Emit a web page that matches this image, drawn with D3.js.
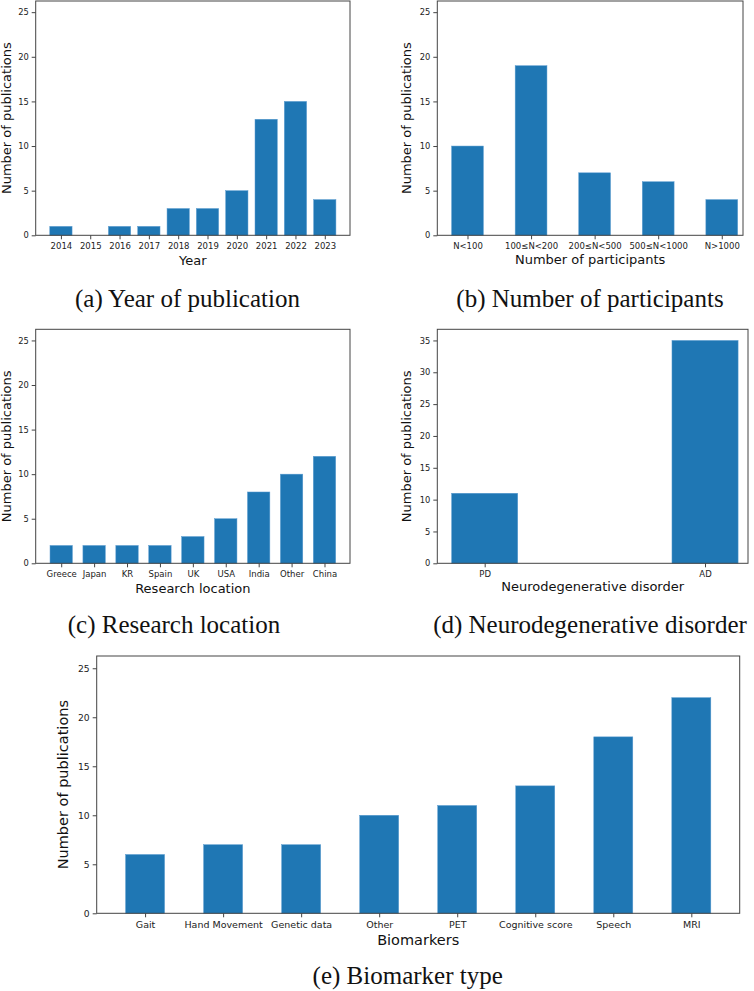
<!DOCTYPE html>
<html>
<head>
<meta charset="utf-8">
<script src="https://cdn.jsdelivr.net/npm/d3@7"></script>
<style>
  html, body { margin: 0; padding: 0; background: #fff; }
  svg { display: block; }
  .tick text { fill: #222; }
</style>
</head>
<body>
<svg id="chart" width="754" height="991"></svg>
<script>
// ---------------- DATA ----------------
const yearCategories = ["2014","2015","2016","2017","2018","2019","2020","2021","2022","2023"];
const yearValues     = [1, 0, 1, 1, 3, 3, 5, 13, 15, 4];

const participantCategories = ["N<100","100≤N<200","200≤N<500","500≤N<1000","N>1000"];
const participantValues     = [10, 19, 7, 6, 4];

const locationCategories = ["Greece","Japan","KR","Spain","UK","USA","India","Other","China"];
const locationValues     = [2, 2, 2, 2, 3, 5, 8, 10, 12];

const disorderCategories = ["PD","AD"];
const disorderValues     = [11, 35];

const biomarkerCategories = ["Gait","Hand Movement","Genetic data","Other","PET","Cognitive score","Speech","MRI"];
const biomarkerValues     = [6, 7, 7, 10, 11, 13, 18, 22];

const ticks25 = [0, 5, 10, 15, 20, 25];
const ticks35 = [0, 5, 10, 15, 20, 25, 30, 35];

const yLabel = "Number of publications";

// ---------------- LAYOUT ----------------
const panels = [
  { cats: yearCategories, vals: yearValues, xlabel: "Year", caption: "(a) Year of publication",
    box: {l: 35.7, r: 350, t: 1, b: 235.3}, xlim: [-0.86, 9.86], w: 0.76, ymax: 26.25, yticks: ticks25,
    tickFont: 8.5, yTickFont: 8.3, labelFont: 13, xlabY: 265, ylabX: 10.5, capX: 187.5, capY: 307 },
  { cats: participantCategories, vals: participantValues, xlabel: "Number of participants", caption: "(b) Number of participants",
    box: {l: 437.3, r: 743, t: 1, b: 235.3}, xlim: [-0.475, 4.334], w: 0.5, ymax: 26.25, yticks: ticks25,
    tickFont: 8.5, yTickFont: 8.3, labelFont: 13, xlabY: 263.5, ylabX: 411, capX: 590, capY: 307 },
  { cats: locationCategories, vals: locationValues, xlabel: "Research location", caption: "(c) Research location",
    box: {l: 35.7, r: 350, t: 329.3, b: 563.3}, xlim: [-0.775, 8.775], w: 0.68, ymax: 26.25, yticks: ticks25,
    tickFont: 8.5, yTickFont: 8.3, labelFont: 13, xlabY: 593, ylabX: 10.5, capX: 174, capY: 633 },
  { cats: disorderCategories, vals: disorderValues, xlabel: "Neurodegenerative disorder", caption: "(d) Neurodegenerative disorder",
    box: {l: 437.3, r: 748, t: 329.3, b: 563.3}, xlim: [-0.215, 1.195], w: 0.3, ymax: 36.75, yticks: ticks35,
    tickFont: 8.5, yTickFont: 8.3, labelFont: 13, xlabY: 591, ylabX: 411, capX: 590, capY: 633 },
  { cats: biomarkerCategories, vals: biomarkerValues, xlabel: "Biomarkers", caption: "(e) Biomarker type",
    box: {l: 96.7, r: 739.7, t: 656, b: 913.3}, xlim: [-0.62, 7.62], w: 0.5, ymax: 26.25, yticks: ticks25,
    tickFont: 9.5, yTickFont: 9.2, labelFont: 14.5, xlabY: 945, ylabX: 68.3, capX: 407.7, capY: 984 }
];

const svg = d3.select("#chart");
const BAR = "#1f77b4";
const FRAME = "#444";
const SANS = "'DejaVu Sans', sans-serif";
const SERIF = "'Liberation Serif', 'DejaVu Serif', serif";

panels.forEach(p => {
  const g = svg.append("g");
  const x = d3.scaleLinear().domain(p.xlim).range([p.box.l, p.box.r]);
  const y = d3.scaleLinear().domain([0, p.ymax]).range([p.box.b, p.box.t]);
  const idx = p.cats.map((c, i) => i);

  // bars
  g.selectAll("rect.bar").data(p.vals).enter().append("rect")
    .attr("class", "bar")
    .attr("x", (d, i) => x(i - p.w / 2))
    .attr("width", (d, i) => x(i + p.w / 2) - x(i - p.w / 2))
    .attr("y", d => y(d))
    .attr("height", d => y(0) - y(d))
    .attr("fill", BAR)
    .attr("stroke", "#5a9bd0")
    .attr("stroke-width", 0.5);

  // x axis
  const xAxis = d3.axisBottom(x).tickValues(idx).tickFormat(i => p.cats[i])
    .tickSize(4).tickPadding(3.5).tickSizeOuter(0);
  const gx = g.append("g").attr("transform", `translate(0,${p.box.b})`).call(xAxis);
  gx.select(".domain").remove();
  gx.selectAll(".tick line").attr("stroke", FRAME);
  gx.selectAll(".tick text").attr("font-family", SANS).attr("font-size", p.tickFont);

  // y axis
  const yAxis = d3.axisLeft(y).tickValues(p.yticks).tickFormat(d3.format("d"))
    .tickSize(4).tickPadding(3).tickSizeOuter(0);
  const gy = g.append("g").attr("transform", `translate(${p.box.l},0)`).call(yAxis);
  gy.select(".domain").remove();
  gy.selectAll(".tick line").attr("stroke", FRAME);
  gy.selectAll(".tick text").attr("font-family", SANS).attr("font-size", p.yTickFont);

  // frame
  g.append("rect")
    .attr("x", p.box.l).attr("y", p.box.t)
    .attr("width", p.box.r - p.box.l).attr("height", p.box.b - p.box.t)
    .attr("fill", "none").attr("stroke", FRAME).attr("stroke-width", 1);

  // axis labels
  g.append("text")
    .attr("x", (p.box.l + p.box.r) / 2).attr("y", p.xlabY)
    .attr("text-anchor", "middle")
    .attr("font-family", SANS).attr("font-size", p.labelFont).attr("fill", "#111")
    .text(p.xlabel);

  g.append("text")
    .attr("transform", `translate(${p.ylabX},${(p.box.t + p.box.b) / 2}) rotate(-90)`)
    .attr("text-anchor", "middle")
    .attr("font-family", SANS).attr("font-size", p.labelFont).attr("fill", "#111")
    .text(yLabel);

  // caption
  g.append("text")
    .attr("x", p.capX).attr("y", p.capY)
    .attr("text-anchor", "middle")
    .attr("font-family", SERIF).attr("font-size", 25).attr("fill", "#111")
    .text(p.caption);
});
</script>
</body>
</html>
